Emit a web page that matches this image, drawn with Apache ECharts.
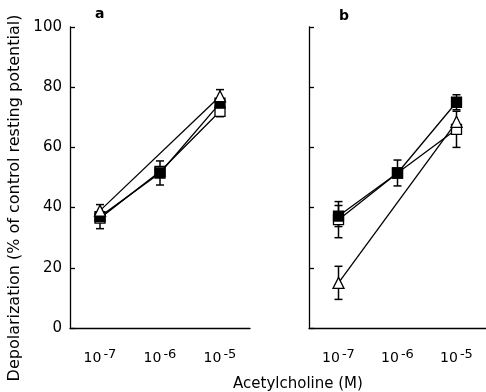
<!DOCTYPE html>
<html>
<head>
<meta charset="utf-8">
<script src="https://cdn.jsdelivr.net/npm/echarts@6/dist/echarts.min.js"></script>
<style>
  html, body { margin: 0; padding: 0; background: #fff; }
  #chart { width: 486px; height: 392px; }
</style>
</head>
<body>
<div id="chart"></div>
<script>
// log10 of acetylcholine concentration
const doses = ['-7', '-6', '-5'];
const yTicks = [0, 20, 40, 60, 80, 100];

// panel a
const filledA = [37, 51.5, 74.7];
const filledErrA = [4, 4, 4.5];
const openA = [36.5, 52, 72];
const openErrA = [0, 0, 0];
const triA = [39, null, 77];

// panel b
const filledB = [37.2, 51.5, 75];
const filledErrB = [3.5, 4.3, 2.5];
const openB = [36, 51.5, 66];
const openErrB = [6, 0, 6];
const triB = [15, null, 68.5];
const triErrB = [5.5, 0, 0];

const font = 'DejaVu Sans';
const ink = '#000';

function errBars(vals, errs, gridIdx) {
  const data = [];
  vals.forEach((v, i) => {
    if (v != null && errs[i] > 0) data.push([i, v - errs[i], v + errs[i]]);
  });
  return {
    type: 'custom',
    xAxisIndex: gridIdx,
    yAxisIndex: gridIdx,
    z: 1,
    silent: true,
    data: data,
    renderItem(params, api) {
      const lo = api.coord([api.value(0), api.value(1)]);
      const hi = api.coord([api.value(0), api.value(2)]);
      const w = 4;
      const st = { stroke: ink, lineWidth: 1.5 };
      return {
        type: 'group',
        children: [
          { type: 'line', shape: { x1: lo[0], y1: lo[1], x2: hi[0], y2: hi[1] }, style: st },
          { type: 'line', shape: { x1: lo[0] - w, y1: lo[1], x2: lo[0] + w, y2: lo[1] }, style: st },
          { type: 'line', shape: { x1: hi[0] - w, y1: hi[1], x2: hi[0] + w, y2: hi[1] }, style: st }
        ]
      };
    }
  };
}

function line(vals, gridIdx, symbol, filled, z) {
  return {
    type: 'line',
    xAxisIndex: gridIdx,
    yAxisIndex: gridIdx,
    data: vals,
    connectNulls: true,
    symbol: symbol,
    symbolSize: symbol === 'triangle' ? 11 : 10,
    z: z,
    lineStyle: { color: ink, width: 1.3 },
    itemStyle: { color: filled ? ink : '#fff', borderColor: ink, borderWidth: 1.3 },
    animation: false
  };
}

function xAx(gridIdx) {
  return {
    type: 'category',
    gridIndex: gridIdx,
    data: doses,
    boundaryGap: true,
    axisLine: { lineStyle: { color: ink, width: 1.3 } },
    axisTick: { inside: true, alignWithLabel: true, length: 5, lineStyle: { color: ink, width: 1.3 } },
    axisLabel: {
      interval: 0,
      margin: 20,
      fontFamily: font,
      fontSize: 14,
      color: ink,
      formatter: v => '10{sup|-' + v.replace('-', '') + '}',
      rich: { sup: { fontFamily: font, fontSize: 13, color: ink, verticalAlign: 'bottom', padding: [0, 0, 7, 2] } }
    },
    splitLine: { show: false }
  };
}

function yAx(gridIdx, showLabels) {
  return {
    type: 'value',
    gridIndex: gridIdx,
    min: yTicks[0],
    max: yTicks[yTicks.length - 1],
    interval: 20,
    axisLine: { show: true, lineStyle: { color: ink, width: 1.3 } },
    axisTick: { show: true, inside: true, length: 5, lineStyle: { color: ink, width: 1.3 } },
    axisLabel: { show: showLabels, fontFamily: font, fontSize: 15, color: ink, margin: 8 },
    splitLine: { show: false }
  };
}

const chart = echarts.init(document.getElementById('chart'), null, { renderer: 'canvas' });
chart.setOption({
  backgroundColor: '#fff',
  animation: false,
  title: [
    { text: 'a', left: 90, top: 2, textStyle: { fontFamily: font, fontSize: 14, fontWeight: 'bold', color: ink } },
    { text: 'b', left: 334, top: 4, textStyle: { fontFamily: font, fontSize: 14, fontWeight: 'bold', color: ink } },
    { text: 'Acetylcholine (M)', left: 293, top: 372, textAlign: 'center', textStyle: { fontFamily: font, fontSize: 15, fontWeight: 'normal', color: ink } }
  ],
  graphic: [{
    type: 'text',
    x: 15,
    y: 198,
    rotation: Math.PI / 2,
    style: {
      text: 'Depolarization (% of control resting potential)',
      fontFamily: font,
      fontSize: 16,
      fill: ink,
      align: 'center',
      verticalAlign: 'middle'
    }
  }],
  grid: [
    { left: 70, top: 27, width: 180, height: 301 },
    { left: 309, top: 27, width: 180, height: 301 }
  ],
  xAxis: [xAx(0), xAx(1)],
  yAxis: [yAx(0, true), yAx(1, false)],
  series: [
    errBars(filledA, filledErrA, 0),
    errBars(openA, openErrA, 0),
    line(openA, 0, 'rect', false, 3),
    line(filledA, 0, 'rect', true, 4),
    line(triA, 0, 'triangle', false, 5),
    errBars(filledB, filledErrB, 1),
    errBars(openB, openErrB, 1),
    errBars(triB, triErrB, 1),
    line(openB, 1, 'rect', false, 3),
    line(triB, 1, 'triangle', false, 4),
    line(filledB, 1, 'rect', true, 5)
  ]
});
</script>
</body>
</html>
